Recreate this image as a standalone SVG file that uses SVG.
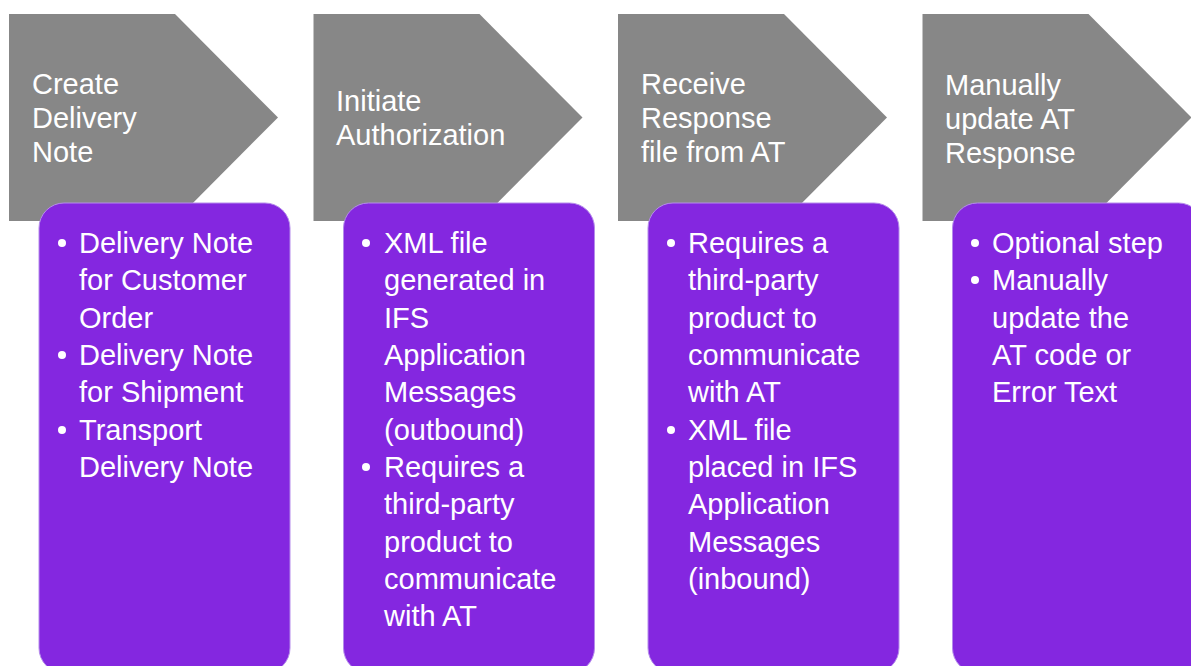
<svg xmlns="http://www.w3.org/2000/svg" width="1191" height="666" viewBox="0 0 1191 666">
<style>
.chev{fill:#878787}
.box{fill:#8427E0;stroke:#B58CEB;stroke-width:1}
.t{font-family:"Liberation Sans",Arial,sans-serif;font-size:29px;fill:#ffffff}
.dot{fill:#ffffff}
</style>
<rect width="1191" height="666" fill="#ffffff"/>
<g id="connectors"></g>
<g id="step1">
<polygon class="chev" points="9,14 175,14 278,117.5 175,221 9,221"/>
<text class="t" x="32"><tspan x="32" y="94">Create</tspan><tspan x="32" y="128">Delivery</tspan><tspan x="32" y="162">Note</tspan></text>
<rect class="box" x="39" y="203" width="251" height="470" rx="25"/>
<circle class="dot" cx="62" cy="243" r="4"/><circle class="dot" cx="62" cy="355" r="4"/><circle class="dot" cx="62" cy="430" r="4"/>
<text class="t"><tspan x="79" y="253">Delivery Note</tspan><tspan x="79" y="290">for Customer</tspan><tspan x="79" y="328">Order</tspan><tspan x="79" y="365">Delivery Note</tspan><tspan x="79" y="402">for Shipment</tspan><tspan x="79" y="440">Transport</tspan><tspan x="79" y="477">Delivery Note</tspan></text>
</g>
<g id="step2">
<polygon class="chev" points="313.5,14 479.5,14 582.5,117.5 479.5,221 313.5,221"/>
<text class="t"><tspan x="336" y="111">Initiate</tspan><tspan x="336" y="145">Authorization</tspan></text>
<rect class="box" x="343.5" y="203" width="251" height="470" rx="25"/>
<circle class="dot" cx="366" cy="243" r="4"/><circle class="dot" cx="366" cy="467" r="4"/>
<text class="t"><tspan x="384" y="253">XML file</tspan><tspan x="384" y="290">generated in</tspan><tspan x="384" y="328">IFS</tspan><tspan x="384" y="365">Application</tspan><tspan x="384" y="402">Messages</tspan><tspan x="384" y="440">(outbound)</tspan><tspan x="384" y="477">Requires a</tspan><tspan x="384" y="514">third-party</tspan><tspan x="384" y="552">product to</tspan><tspan x="384" y="589">communicate</tspan><tspan x="384" y="626">with AT</tspan></text>
</g>
<g id="step3">
<polygon class="chev" points="618,14 784,14 887,117.5 784,221 618,221"/>
<text class="t"><tspan x="641" y="94">Receive</tspan><tspan x="641" y="128">Response</tspan><tspan x="641" y="162">file from AT</tspan></text>
<rect class="box" x="648" y="203" width="251" height="470" rx="25"/>
<circle class="dot" cx="671" cy="243" r="4"/><circle class="dot" cx="671" cy="430" r="4"/>
<text class="t"><tspan x="688" y="253">Requires a</tspan><tspan x="688" y="290">third-party</tspan><tspan x="688" y="328">product to</tspan><tspan x="688" y="365">communicate</tspan><tspan x="688" y="402">with AT</tspan><tspan x="688" y="440">XML file</tspan><tspan x="688" y="477">placed in IFS</tspan><tspan x="688" y="514">Application</tspan><tspan x="688" y="552">Messages</tspan><tspan x="688" y="589">(inbound)</tspan></text>
</g>
<g id="step4">
<polygon class="chev" points="922.5,14 1088.5,14 1191.5,117.5 1088.5,221 922.5,221"/>
<text class="t"><tspan x="945" y="95">Manually</tspan><tspan x="945" y="129">update AT</tspan><tspan x="945" y="163">Response</tspan></text>
<rect class="box" x="952.5" y="203" width="251" height="470" rx="25"/>
<circle class="dot" cx="975" cy="243" r="4"/><circle class="dot" cx="975" cy="280" r="4"/>
<text class="t"><tspan x="992" y="253">Optional step</tspan><tspan x="992" y="290">Manually</tspan><tspan x="992" y="328">update the</tspan><tspan x="992" y="365">AT code or</tspan><tspan x="992" y="402">Error Text</tspan></text>
</g>
</svg>
